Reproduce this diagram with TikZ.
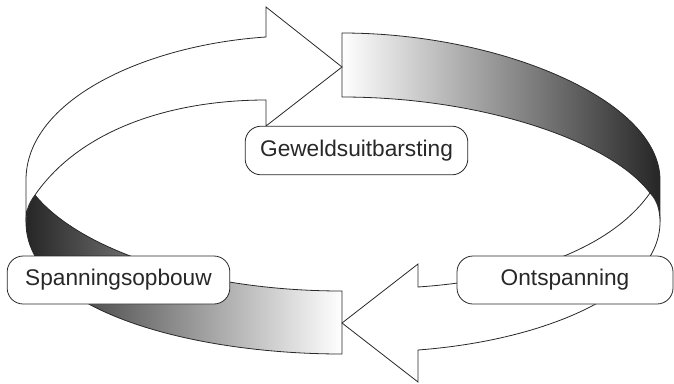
\documentclass[tikz,border=0pt]{standalone}
\usepackage{fontspec}
\setmainfont{Liberation Sans}
\usepackage{xcolor}

\definecolor{inkgrey}{RGB}{40,40,40}

\tikzset{
  ribbon/.style={draw=inkgrey, line width=0.6pt, line join=miter},
  labelbox/.style={draw=inkgrey, fill=white, rounded corners=12pt, line width=0.6pt,
    font=\fontsize{17}{20}\selectfont, text=inkgrey, inner sep=0pt},
}

\begin{document}
\begin{tikzpicture}[x=0.75pt,y=0.75pt,yscale=-1,xscale=1]
\useasboundingbox (0,0) rectangle (674,383);

%Shape: Band [top right]
\draw [ribbon, left color=white, right color=inkgrey!95!black] (342,33) -- (342,97) .. controls (480,97) and (610,140) .. (650,193) .. controls (657,200) and (660,210) .. (660,222) -- (660,180) .. controls (660,100) and (500,33) .. (342,33) -- cycle ;
%Shape: Band [bottom left]
\draw [ribbon, left color=inkgrey!95!black, right color=white] (342,291) -- (342,354) .. controls (190,354) and (26,310) .. (26,222) .. controls (26,210) and (29,203) .. (35,195) .. controls (80,250) and (200,291) .. (342,291) -- cycle ;

%Shape: Arrow [top]
\draw [ribbon, fill=white] (35,195) .. controls (80,130) and (170,100) .. (266,100) -- (266,126) -- (342,67) -- (266,7) -- (266,37) .. controls (145,45) and (26,100) .. (26,180) -- (26,222) .. controls (26,210) and (29,203) .. (35,195) -- cycle ;
%Shape: Arrow [bottom]
\draw [ribbon, fill=white] (650,193) .. controls (610,250) and (520,280) .. (418,287) -- (418,264) -- (342,323) -- (418,382) -- (418,350) .. controls (550,340) and (660,290) .. (660,222) .. controls (660,210) and (657,200) .. (650,193) -- cycle ;

% Text Node
\node [labelbox, minimum width=167pt, minimum height=36.5pt] (geweld) at (356.5,150.5) {Geweldsuitbarsting};
% Text Node
\node [labelbox, minimum width=167pt, minimum height=36pt] (opbouw) at (118.5,280) {Spanningsopbouw};
% Text Node
\node [labelbox, minimum width=162pt, minimum height=36pt] (ontspanning) at (565,280) {Ontspanning};

\end{tikzpicture}
\end{document}
